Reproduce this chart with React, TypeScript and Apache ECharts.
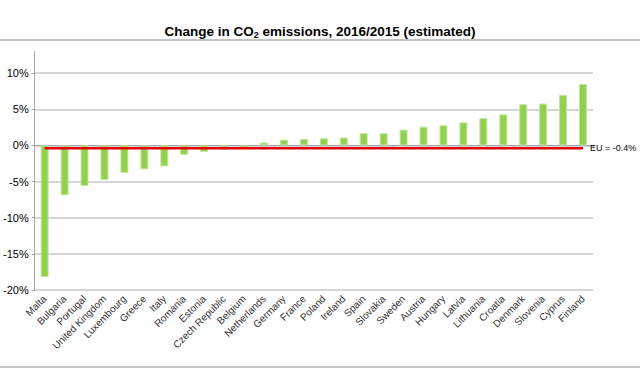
import React, { useEffect, useRef } from "react";
import * as echarts from "echarts";

const countries = [
  "Malta", "Bulgaria", "Portugal", "United Kingdom", "Luxembourg", "Greece", "Italy",
  "Romania", "Estonia", "Czech Republic", "Belgium", "Netherlands", "Germany", "France",
  "Poland", "Ireland", "Spain", "Slovakia", "Sweden", "Austria", "Hungary", "Latvia",
  "Lithuania", "Croatia", "Denmark", "Slovenia", "Cyprus", "Finland",
];
const changes = [
  -18.2, -6.9, -5.6, -4.8, -3.8, -3.3, -2.9,
  -1.3, -0.9, -0.6, -0.4, 0.4, 0.8, 0.9,
  1.0, 1.1, 1.7, 1.7, 2.2, 2.6, 2.8, 3.2,
  3.8, 4.3, 5.7, 5.8, 7.0, 8.5,
];
const euAverage = -0.4;
const euLabel = "EU = -0.4%";
const titleParts = ["Change in CO", "2", " emissions, 2016/2015 (estimated)"];

export default function App() {
  const ref = useRef<HTMLDivElement>(null);
  useEffect(() => {
    if (!ref.current) return;
    const chart = echarts.init(ref.current, null, { renderer: "svg" });
    const font = "Liberation Sans";
    chart.setOption({
      animation: false,
      backgroundColor: "#ffffff",
      textStyle: { fontFamily: font },
      title: {
        left: "center",
        top: 19,
        text: `{a|${titleParts[0]}}{s|${titleParts[1]}}{a|${titleParts[2]}}`,
        textStyle: {
          rich: {
            a: { fontSize: 13.5, fontWeight: "bold", color: "#000", fontFamily: font },
            s: { fontSize: 9, fontWeight: "bold", color: "#000", fontFamily: font, padding: [6, 0, 0, 0] },
          },
        },
      },
      graphic: [
        { type: "line", shape: { x1: 0, y1: 40, x2: 640, y2: 40 }, style: { stroke: "#c4c4c4", lineWidth: 2 } },
        { type: "line", shape: { x1: 0, y1: 367, x2: 640, y2: 367 }, style: { stroke: "#c4c4c4", lineWidth: 2 } },
      ],
      grid: { left: 31, right: 47, top: 51.5, bottom: 80, containLabel: false },
      xAxis: [
        {
          type: "category",
          data: countries,
          axisLine: { onZero: true, lineStyle: { color: "#a6a6a6", width: 1 } },
          axisTick: { show: true, length: 3, lineStyle: { color: "#a6a6a6" } },
          axisLabel: { show: false },
        },
        {
          type: "category",
          data: countries,
          position: "bottom",
          axisLine: { show: false, onZero: false },
          axisTick: { show: false },
          axisLabel: {
            rotate: 45,
            fontSize: 10,
            color: "#333",
            margin: 7,
            interval: 0,
            fontFamily: font,
          },
        },
      ],
      yAxis: {
        type: "value",
        min: -20,
        max: 13,
        interval: 5,
        axisLine: { show: true, lineStyle: { color: "#a6a6a6", width: 1 } },
        axisTick: { show: true, length: 3, lineStyle: { color: "#a6a6a6" } },
        axisLabel: {
          formatter: (v: number) => `${v}%`,
          fontSize: 11,
          color: "#000",
          margin: 6,
          showMaxLabel: false,
          fontFamily: font,
        },
        splitLine: { show: true, showMaxLine: false, lineStyle: { color: "#c8c8c8", width: 1.5 } },
      },
      series: [
        {
          type: "bar",
          data: changes,
          barWidth: 8,
          itemStyle: { color: "#92d050", borderColor: "#c3e69c", borderWidth: 1 },
        },
        {
          type: "line",
          data: countries.map(() => euAverage),
          symbol: "none",
          lineStyle: { color: "#e60000", width: 2.5 },
          z: 5,
          endLabel: {
            show: true,
            formatter: euLabel,
            fontSize: 9,
            color: "#000",
            distance: 7,
            fontFamily: font,
          },
        },
      ],
    });
    return () => chart.dispose();
  }, []);
  return (
    <div
      ref={ref}
      style={{ position: "fixed", left: 0, top: 0, width: 640, height: 370, background: "#fff" }}
    />
  );
}
